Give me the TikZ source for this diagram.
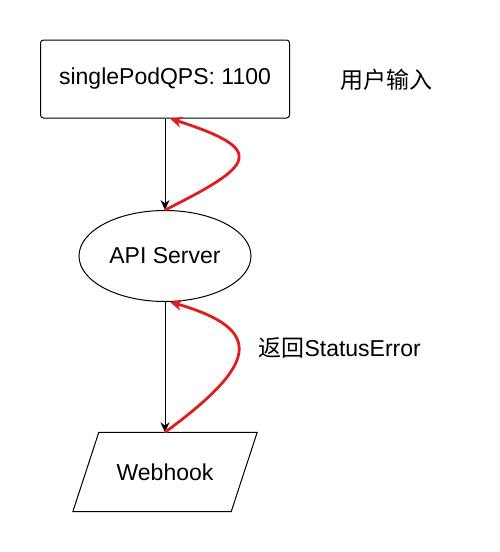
\documentclass[tikz,border=0pt]{standalone}
\usepackage{fontspec}
\setmainfont{Liberation Sans}
\newfontfamily\cjk{Noto Sans CJK SC}
\usepackage{xcolor}
\usepackage{tikz}
\usetikzlibrary{positioning}
\usetikzlibrary{arrows.meta, shapes.geometric, calc}
\definecolor{backred}{RGB}{222,30,30}

\tikzset{
    big/.style={font=\fontsize{23}{27}\selectfont},
    box/.style={draw, line width=1pt, rounded corners=3pt, minimum width=249pt, minimum height=78pt, big},
    server/.style={draw, line width=1pt, ellipse, minimum width=172pt, minimum height=91pt, inner sep=0pt, big},
    hook/.style={minimum width=184pt, minimum height=79pt, inner sep=0pt, big},
    call/.style={-{Stealth[length=10pt, width=9pt]}, line width=1pt},
    back/.style={-{Stealth[length=12pt, width=11pt]}, line width=2.8pt, draw=backred}
}

\begin{document}
\begin{tikzpicture}[x=1pt, y=-1pt]
        \useasboundingbox (0,0) rectangle (500,552);
        \node[box] (input) at (165,79) {singlePodQPS: 1100};
        \node[big] (inputnote) at (386,80) {\cjk 用户输入};
        \node[server] (api) at (165,256) {API Server};
        \node[hook] (webhook) at (165,472) {Webhook};
        \draw[line width=1pt] (webhook.south west) -- ([xshift=-26pt]webhook.south east)
            -- (webhook.north east) -- ([xshift=26pt]webhook.north west) -- cycle;
        \node[big, anchor=west] (errnote) at (255,348) {{\cjk 返回}StatusError};

        \draw[call] (input.south) -- (api.north);
        \draw[call] (api.south) -- (webhook.north);

        % red return paths
        \draw[back] (api.north) .. controls (255,165) and (268,150) .. ([xshift=5pt]input.south);
        \draw[back] (webhook.north) .. controls (255,366) and (268,330) .. ([xshift=5pt]api.south);
    \end{tikzpicture}
\end{document}
